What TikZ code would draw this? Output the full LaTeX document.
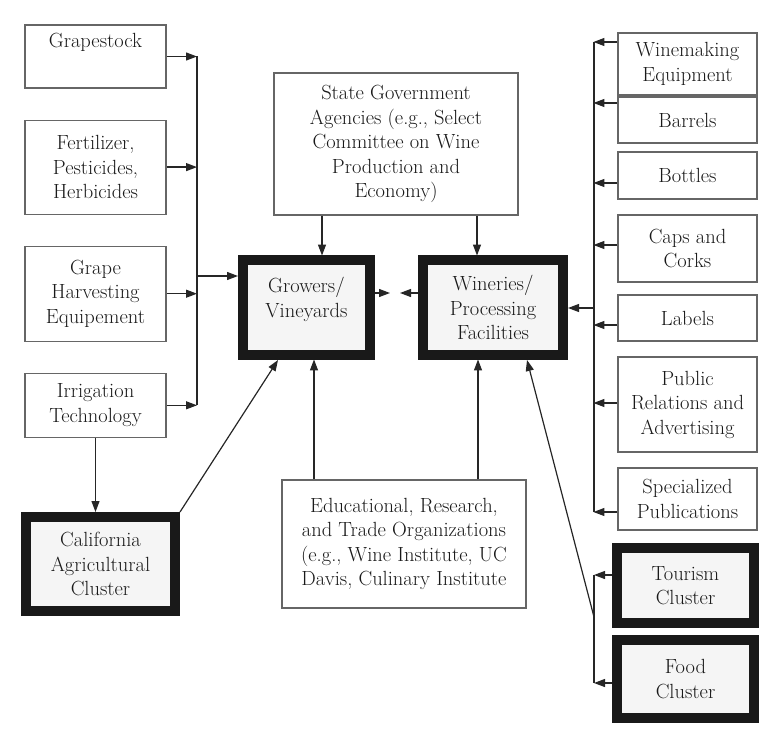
\documentclass[tikz,border=0pt]{standalone}
\usetikzlibrary{arrows.meta}
\usetikzlibrary{positioning}

\begin{document}
\begin{tikzpicture}[->,>={Triangle[length=11pt,width=8pt]},x=1pt,y=-1pt,node distance=31pt,line width=1.2pt,color=black!85]
\tikzstyle{b}=[rectangle,draw=black!60,line width=1.1pt,align=center,inner sep=0pt,text=black!90,font=\fontsize{20.5}{24.5}\selectfont]
\tikzstyle{k}=[b,draw=black!90,line width=10pt,outer sep=5pt,fill=black!4]
\useasboundingbox (0,0) rectangle (759,735);
\node[b,minimum width=141pt,minimum height=63pt]	(grape)	at (95.5,56.5)	{Grapestock\\\strut};
\node[b,minimum width=141pt,minimum height=94pt]	(fert)	[below=of grape]	{Fertilizer,\\Pesticides,\\Herbicides};
\node[b,minimum width=141pt,minimum height=95pt]	(harv)	[below=of fert]	{Grape\\Harvesting\\Equipement};
\node[b,minimum width=141pt,minimum height=64pt]	(irrig)	[below=of harv]	{Irrigation\\Technology};
\node[k,minimum width=149pt,minimum height=94pt]	(calif)	at (100.5,564)	{California\\Agricultural\\Cluster};
\node[b,minimum width=244pt,minimum height=142pt]	(state)	at (396,144)	{State Government\\Agencies (e.g., Select\\Committee on Wine\\Production and\\Economy)};
\node[k,minimum width=127pt,minimum height=95pt]	(grow)	at (306.5,307.5)	{Growers/\\Vineyards\\[-4pt]};
\node[k,minimum width=140pt,minimum height=95pt]	(winer)	at (493,307.5)	{Wineries/\\Processing\\Facilities};
\node[b,minimum width=244pt,minimum height=128pt]	(edu)	at (404,544)	{Educational, Research,\\and Trade Organizations\\(e.g., Wine Institute, UC\\Davis, Culinary Institute};
\node[b,minimum width=139pt,minimum height=62pt]	(wmeq)	at (687.5,64)	{Winemaking\\Equipment};
\node[b,minimum width=139pt,minimum height=46pt]	(barr)	at (687.5,120)	{Barrels};
\node[b,minimum width=139pt,minimum height=47pt]	(bott)	at (687.5,175.5)	{Bottles};
\node[b,minimum width=139pt,minimum height=67pt]	(caps)	at (687.5,248.5)	{Caps and\\Corks};
\node[b,minimum width=139pt,minimum height=46pt]	(lab)	at (687.5,318)	{Labels};
\node[b,minimum width=139pt,minimum height=95pt]	(pub)	at (687.5,404.5)	{Public\\Relations and\\Advertising};
\node[b,minimum width=139pt,minimum height=62pt]	(spec)	at (687.5,499)	{Specialized\\Publications};
\node[k,minimum width=137pt,minimum height=75pt]	(tour)	at (685.5,585.5)	{Tourism\\Cluster};
\node[k,minimum width=137pt,minimum height=78pt]	(food)	at (685.5,679)	{Food\\Cluster};
\coordinate (lbus) at (197,276);
\coordinate (rbus) at (594,308);
\coordinate (rtop) at (594,42);
\coordinate (rbot) at (594,512);
\coordinate (ttop) at (594,575);
\coordinate (tbot) at (594,683);
\coordinate (tmid) at (594,617);
\draw (grape.east) -- (grape.east -| lbus);
\draw (fert.east) -- (fert.east -| lbus);
\draw (harv.east) -- (harv.east -| lbus);
\draw (irrig.east) -- (irrig.east -| lbus);
\draw[-] (grape.east -| lbus) -- (irrig.east -| lbus);
\draw (lbus) -- (grow.west |- lbus);
\draw (irrig.south) -- (irrig.south |- calif.north);
\draw (calif.north east) -- ([xshift=-28.5pt]grow.south);
\draw ([xshift=-74pt]state.south) -- +(0,40);
\draw ([xshift=81pt]state.south) -- +(0,40);
\draw ([xshift=-90pt]edu.north) -- +(0,-120);
\draw ([xshift=74pt]edu.north) -- +(0,-120);
\draw ([yshift=14.5pt]grow.east) -- +(15,0);
\draw ([yshift=14.5pt]winer.west) -- +(-18,0);
\draw[-] (rtop) -- (rbot);
\draw (rbus) -- (winer.east |- rbus);
\draw ([yshift=22pt]wmeq.west) -- +(-24,0);
\draw ([yshift=17pt]barr.west) -- +(-24,0);
\draw ([yshift=-7.5pt]bott.west) -- +(-24,0);
\draw ([yshift=3.5pt]caps.west) -- +(-24,0);
\draw ([yshift=-7pt]lab.west) -- +(-24,0);
\draw ([yshift=1.5pt]pub.west) -- +(-24,0);
\draw ([yshift=-13pt]spec.west) -- +(-24,0);
\draw[-] (ttop) -- (tbot);
\draw ([yshift=10.5pt]tour.west) -- +(-18,0);
\draw ([yshift=-4pt]food.west) -- +(-18,0);
\draw (tmid) -- ([xshift=34pt]winer.south);
\end{tikzpicture}
\end{document}
